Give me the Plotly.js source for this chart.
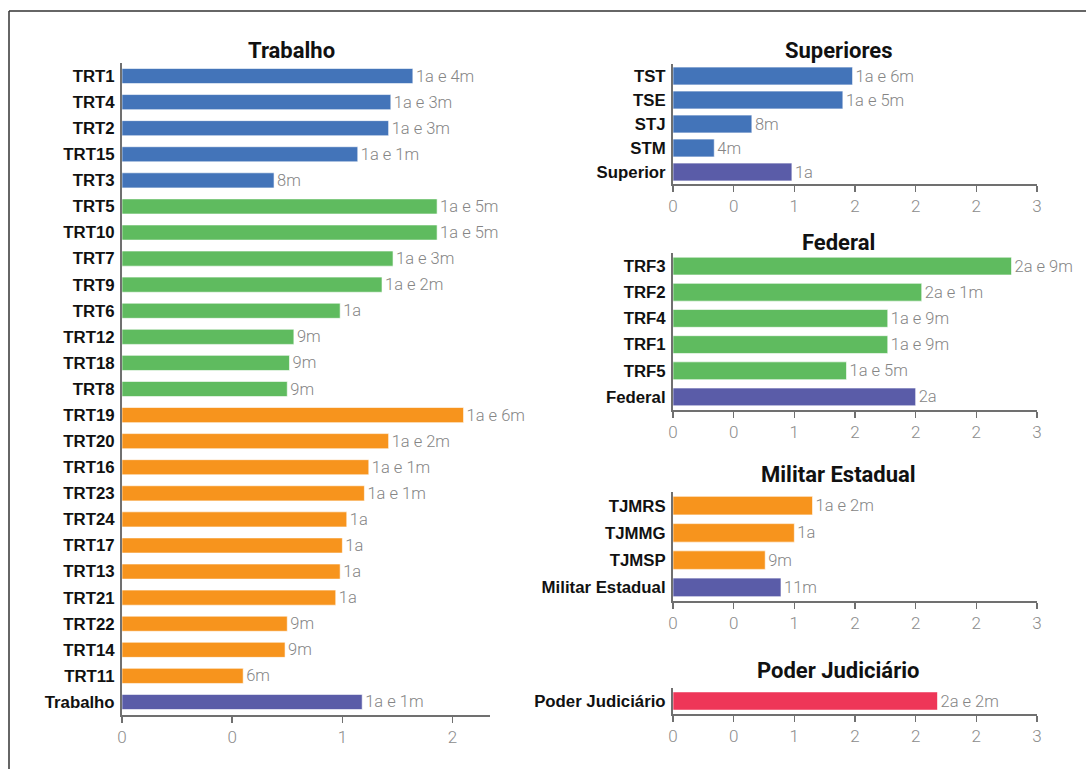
<!DOCTYPE html>
<html>
<head>
<meta charset="utf-8">
<script src="https://cdn.plot.ly/plotly-3.0.1.min.js"></script>
<style>html,body{margin:0;padding:0;background:#fff;}#chart{width:1086px;height:769px;}</style>
</head>
<body>
<div id="chart"></div>
<script>
// ---- data ----
const trabalhoCats = ['TRT1','TRT4','TRT2','TRT15','TRT3','TRT5','TRT10','TRT7','TRT9','TRT6','TRT12','TRT18','TRT8','TRT19','TRT20','TRT16','TRT23','TRT24','TRT17','TRT13','TRT21','TRT22','TRT14','TRT11','Trabalho'];
const trabalhoVals = [1.32,1.22,1.21,1.07,0.69,1.43,1.43,1.23,1.18,0.99,0.78,0.76,0.75,1.55,1.21,1.12,1.10,1.02,1.00,0.99,0.97,0.75,0.74,0.55,1.09];
const trabalhoLabels = ['1a e 4m','1a e 3m','1a e 3m','1a e 1m','8m','1a e 5m','1a e 5m','1a e 3m','1a e 2m','1a','9m','9m','9m','1a e 6m','1a e 2m','1a e 1m','1a e 1m','1a','1a','1a','1a','9m','9m','6m','1a e 1m'];
const trabalhoGroups = ['grande','grande','grande','grande','grande','medio','medio','medio','medio','medio','medio','medio','medio','pequeno','pequeno','pequeno','pequeno','pequeno','pequeno','pequeno','pequeno','pequeno','pequeno','pequeno','total'];

const superioresCats = ['TST','TSE','STJ','STM','Superior'];
const superioresVals = [1.48,1.40,0.65,0.34,0.98];
const superioresLabels = ['1a e 6m','1a e 5m','8m','4m','1a'];
const superioresGroups = ['grande','grande','grande','grande','total'];

const federalCats = ['TRF3','TRF2','TRF4','TRF1','TRF5','Federal'];
const federalVals = [2.79,2.05,1.77,1.77,1.43,2.00];
const federalLabels = ['2a e 9m','2a e 1m','1a e 9m','1a e 9m','1a e 5m','2a'];
const federalGroups = ['medio','medio','medio','medio','medio','total'];

const militarCats = ['TJMRS','TJMMG','TJMSP','Militar Estadual'];
const militarVals = [1.15,1.00,0.76,0.89];
const militarLabels = ['1a e 2m','1a','9m','11m'];
const militarGroups = ['pequeno','pequeno','pequeno','total'];

const pjCats = ['Poder Judiciário'];
const pjVals = [2.18];
const pjLabels = ['2a e 2m'];
const pjGroups = ['pj'];

const panelTitles = ['Trabalho','Superiores','Federal','Militar Estadual','Poder Judiciário'];
const leftTickVals = [0,0.5,1,1.5];
const leftTickText = ['0','0','1','2'];
const rightTickVals = [0,0.5,1,1.5,2,2.5,3];
const rightTickText = ['0','0','1','2','2','2','3'];

// ---- styles ----
const groupColor = {grande:'#4374b9', medio:'#5fbb5f', pequeno:'#f7941d', total:'#5a5ca8', pj:'#ee3658'};
const W = 1086, H = 769;
const px = v => v / W;
const py = v => 1 - v / H;

const panels = [
  {cats:trabalhoCats, vals:trabalhoVals, labels:trabalhoLabels, groups:trabalhoGroups, x0:122, x1:490, y0:63, y1:715, bw:0.58, range:[0,1.67], tv:leftTickVals, tt:leftTickText, tx:291, ty:50},
  {cats:superioresCats, vals:superioresVals, labels:superioresLabels, groups:superioresGroups, x0:673, x1:1037, y0:64, y1:184, bw:0.74, range:[0,3], tv:rightTickVals, tt:rightTickText, tx:838, ty:50},
  {cats:federalCats, vals:federalVals, labels:federalLabels, groups:federalGroups, x0:673, x1:1037, y0:253, y1:410, bw:0.68, range:[0,3], tv:rightTickVals, tt:rightTickText, tx:838, ty:242},
  {cats:militarCats, vals:militarVals, labels:militarLabels, groups:militarGroups, x0:673, x1:1037, y0:492, y1:601, bw:0.68, range:[0,3], tv:rightTickVals, tt:rightTickText, tx:838, ty:474},
  {cats:pjCats, vals:pjVals, labels:pjLabels, groups:pjGroups, x0:673, x1:1037, y0:688, y1:714, bw:0.7, range:[0,3], tv:rightTickVals, tt:rightTickText, tx:838, ty:670}
];

const traces = [];
const layout = {
  width: W, height: H,
  margin: {l:0, r:0, t:0, b:0},
  paper_bgcolor: '#fff', plot_bgcolor: '#fff',
  showlegend: false,
  bargap: 0.3,
  annotations: [],
  shapes: [
    {type:'line', xref:'paper', yref:'paper', x0:px(9), x1:1, y0:py(11), y1:py(11), line:{color:'#333', width:1.5}},
    {type:'line', xref:'paper', yref:'paper', x0:px(9), x1:px(9), y0:py(11), y1:0, line:{color:'#333', width:1.5}}
  ]
};

panels.forEach((p, i) => {
  const n = i === 0 ? '' : String(i + 1);
  traces.push({
    type: 'bar', orientation: 'h',
    x: p.vals, y: p.cats,
    xaxis: 'x' + n, yaxis: 'y' + n,
    width: p.bw,
    marker: {color: p.groups.map(g => groupColor[g]), line: {color: 'rgba(255,255,255,0.6)', width: 1}},
    text: p.labels, textposition: 'outside', constraintext: 'none', cliponaxis: false,
    textfont: {family: 'Roboto, sans-serif', size: 16.5, color: '#858585', weight: 300},
    hoverinfo: 'x+y'
  });
  layout['xaxis' + n] = {
    domain: [px(p.x0), px(p.x1)], anchor: 'y' + n,
    range: p.range, fixedrange: true,
    showgrid: false, zeroline: false,
    showline: true, linecolor: '#707070', linewidth: 2,
    ticks: 'outside', ticklen: 6, tickwidth: 1.5, tickcolor: '#707070',
    tickvals: p.tv, ticktext: p.tt,
    tickfont: {family: 'Roboto, sans-serif', size: 17, color: '#8c8c8c', weight: 300}
  };
  layout['yaxis' + n] = {
    domain: [py(p.y1), py(p.y0)], anchor: 'x' + n,
    type: 'category', categoryorder: 'array', categoryarray: p.cats,
    autorange: 'reversed', fixedrange: true,
    showgrid: false, zeroline: false,
    showline: true, linecolor: '#707070', linewidth: 2,
    ticks: '', ticklabelstandoff: 2,
    tickfont: {family: '"Liberation Sans", Arial, sans-serif', size: 16.8, color: '#111', weight: 700}
  };
  layout.annotations.push({
    xref: 'paper', yref: 'paper', x: px(p.tx), y: py(p.ty),
    xanchor: 'center', yanchor: 'middle', showarrow: false,
    text: panelTitles[i],
    font: {family: 'Roboto, sans-serif', size: 22, color: '#111', weight: 700}
  });
});

Plotly.newPlot('chart', traces, layout, {displayModeBar: false, staticPlot: true});
</script>
</body>
</html>
